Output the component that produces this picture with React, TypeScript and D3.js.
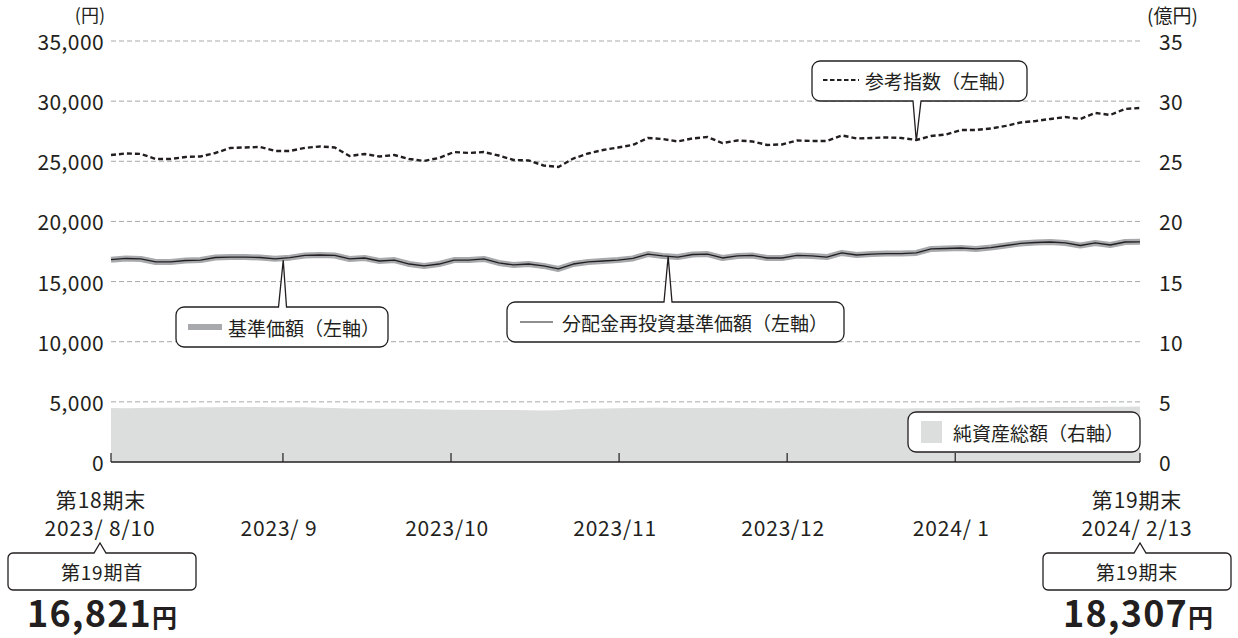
import React from "react";
import * as d3 from "d3";

// reference index, NAV, reinvested NAV (円) and net assets (億円)
const indexValues = [
  25520, 25650, 25610, 25190, 25190, 25360, 25400, 25690, 26110, 26150,
  26190, 25860, 25860, 26110, 26230, 26150, 25440, 25610, 25400, 25520,
  25190, 25030, 25280, 25770, 25690, 25770, 25480, 25110, 25070, 24650,
  24530, 25230, 25650, 25940, 26150, 26360, 26940, 26850, 26650, 26900,
  27020, 26520, 26730, 26650, 26360, 26400, 26730, 26690, 26690, 27150,
  26900, 26940, 26980, 26940, 26770, 27100, 27230, 27600, 27600, 27730,
  27940, 28230, 28350, 28520, 28680, 28520, 29020, 28850, 29350, 29430,
];
const navValues = [
  16821, 16920, 16880, 16630, 16630, 16750, 16790, 17000, 17040, 17040,
  17000, 16890, 16990, 17170, 17210, 17170, 16880, 16960, 16710, 16790,
  16460, 16300, 16460, 16790, 16790, 16880, 16550, 16380, 16460, 16300,
  16050, 16460, 16630, 16710, 16790, 16920, 17290, 17130, 17040, 17250,
  17290, 16960, 17130, 17170, 16960, 16960, 17170, 17130, 17040, 17380,
  17210, 17290, 17330, 17330, 17380, 17710, 17750, 17790, 17710, 17830,
  18000, 18170, 18250, 18290, 18210, 18000, 18210, 18040, 18290, 18307,
];
const reinvestedValues = [
  16821, 16920, 16880, 16630, 16630, 16750, 16790, 17000, 17040, 17040,
  17000, 16890, 16990, 17170, 17210, 17170, 16880, 16960, 16710, 16790,
  16460, 16300, 16460, 16790, 16790, 16880, 16550, 16380, 16460, 16300,
  16050, 16460, 16630, 16710, 16790, 16920, 17290, 17130, 17040, 17250,
  17290, 16960, 17130, 17170, 16960, 16960, 17170, 17130, 17040, 17380,
  17210, 17290, 17330, 17330, 17380, 17710, 17750, 17790, 17710, 17830,
  18000, 18170, 18250, 18290, 18210, 18000, 18210, 18040, 18290, 18307,
];
const netAssets = [
  4.48, 4.47, 4.49, 4.5, 4.5, 4.52, 4.55, 4.56, 4.57, 4.58,
  4.57, 4.56, 4.56, 4.55, 4.52, 4.48, 4.45, 4.43, 4.42, 4.42,
  4.4, 4.38, 4.36, 4.35, 4.34, 4.33, 4.33, 4.32, 4.3, 4.28,
  4.3, 4.38, 4.42, 4.45, 4.47, 4.49, 4.5, 4.5, 4.49, 4.48,
  4.49, 4.5, 4.49, 4.48, 4.47, 4.47, 4.48, 4.48, 4.46, 4.45,
  4.45, 4.46, 4.46, 4.45, 4.46, 4.47, 4.47, 4.48, 4.5, 4.52,
  4.53, 4.55, 4.56, 4.57, 4.58, 4.57, 4.58, 4.6, 4.6, 4.61,
];

const leftTicks = [0, 5000, 10000, 15000, 20000, 25000, 30000, 35000];
const rightTicks = [0, 5, 10, 15, 20, 25, 30, 35];
// month boundaries, in sample-index units
const monthTicks = [11.53, 22.8, 34.07, 45.34, 56.61];
const monthLabels = ["2023/ 9", "2023/10", "2023/11", "2023/12", "2024/ 1"];
const startLabels = ["第18期末", "2023/ 8/10", "第19期首"];
const endLabels = ["第19期末", "2024/ 2/13", "第19期末"];
const startPrice = "16,821";
const endPrice = "18,307";

const INK = "#231f20";
const FONT = "'Noto Sans CJK JP', 'Noto Sans', sans-serif";

// rounded box with a narrow pointer on its top or bottom edge
function calloutPath(x: number, y: number, w: number, h: number, r: number,
  px: number, half: number, tipX: number, tipY: number, side: string) {
  const p = d3.path();
  p.moveTo(x + r, y);
  if (side === "top") {
    p.lineTo(px - half, y);
    p.lineTo(tipX, tipY);
    p.lineTo(px + half, y);
  }
  p.lineTo(x + w - r, y);
  p.arcTo(x + w, y, x + w, y + r, r);
  p.lineTo(x + w, y + h - r);
  p.arcTo(x + w, y + h, x + w - r, y + h, r);
  if (side === "bottom") {
    p.lineTo(px + half, y + h);
    p.lineTo(tipX, tipY);
    p.lineTo(px - half, y + h);
  }
  p.lineTo(x + r, y + h);
  p.arcTo(x, y + h, x, y + h - r, r);
  p.lineTo(x, y + r);
  p.arcTo(x, y, x + r, y, r);
  p.closePath();
  return p.toString();
}

function valueAt(values: number[], pos: number) {
  const i = Math.floor(pos);
  const j = Math.min(values.length - 1, i + 1);
  return d3.interpolateNumber(values[i], values[j])(pos - i);
}

export default function App() {
  const W = 1238, H = 638;
  const n = navValues.length;
  const x = d3.scaleLinear().domain([0, n - 1]).range([111, 1140]);
  const yL = d3.scaleLinear().domain([0, 35000]).range([462, 41]);
  const yR = d3.scaleLinear().domain([0, 35]).range([462, 41]);
  const fmt = d3.format(",");

  const area = d3.area<number>().x((_, i) => x(i)).y0(yR(0)).y1((d) => yR(d));
  const line = d3.line<number>().x((_, i) => x(i)).y((d) => yL(d));

  const baseY = yL(0);
  const edgeTicks = [0, n - 1];

  // callout anchors on the lines
  const navPos = 11.55, reinvPos = 37.36, idxPos = 54;
  const navTip = [x(navPos), yL(valueAt(navValues, navPos)) + 2];
  const reinvTip = [x(reinvPos), yL(valueAt(reinvestedValues, reinvPos))];
  const idxTip = [x(idxPos), yL(indexValues[idxPos]) + 1];

  const sw = 1.3;
  const lbl = { fontSize: 21, letterSpacing: 0.8, dominantBaseline: "central" as const };

  return (
    <svg width={W} height={H} style={{ position: "absolute", left: 0, top: 0, background: "#fff" }}
      fontFamily={FONT} fill={INK}>
      {/* gridlines */}
      {leftTicks.filter((t) => t > 0).map((t) => (
        <line key={t} x1={x(0)} x2={x(n - 1)} y1={yL(t)} y2={yL(t)}
          stroke="#a7a9ac" strokeWidth={1} strokeDasharray="5 3" />
      ))}

      {/* net assets area */}
      <path d={area(netAssets) ?? ""} fill="#dcdddd" stroke="none" />

      {/* x axis */}
      <line x1={x(0)} x2={x(n - 1)} y1={baseY} y2={baseY} stroke={INK} strokeWidth={1.4} />
      {[...edgeTicks, ...monthTicks].map((t) => (
        <line key={t} x1={x(t)} x2={x(t)} y1={baseY} y2={baseY - 9} stroke={INK} strokeWidth={1.2} />
      ))}

      {/* left axis */}
      <text x={105} y={14} fontSize={18} textAnchor="end" dominantBaseline="central">(円)</text>
      {leftTicks.map((t) => (
        <text key={t} x={104} y={yL(t)} fontSize={21} letterSpacing={0.4} textAnchor="end" dominantBaseline="central">
          {fmt(t)}
        </text>
      ))}
      {/* right axis */}
      <text x={1147} y={14} fontSize={19} dominantBaseline="central">(億円)</text>
      {rightTicks.map((t) => (
        <text key={t} x={1159} y={yR(t)} fontSize={21} letterSpacing={0.4} dominantBaseline="central">{t}</text>
      ))}

      {/* NAV (thick gray) with reinvested NAV (thin black) on top */}
      <path d={line(navValues) ?? ""} fill="none" stroke="#a7a9ac" strokeWidth={6} strokeLinejoin="round" />
      <path d={line(reinvestedValues) ?? ""} fill="none" stroke={INK} strokeWidth={1.3} strokeLinejoin="round" />
      {/* reference index */}
      <path d={line(indexValues) ?? ""} fill="none" stroke={INK} strokeWidth={2.4} strokeDasharray="5 3" />

      {/* month labels */}
      {monthLabels.map((l, i) => (
        <text key={l} x={x(monthTicks[i]) - 4} y={527} textAnchor="middle" {...lbl}>{l}</text>
      ))}
      <text x={101} y={499} textAnchor="middle" {...lbl}>{startLabels[0]}</text>
      <text x={100} y={527} textAnchor="middle" {...lbl}>{startLabels[1]}</text>
      <text x={1137} y={499} textAnchor="middle" {...lbl}>{endLabels[0]}</text>
      <text x={1137} y={527} textAnchor="middle" {...lbl}>{endLabels[1]}</text>

      {/* period start / end boxes */}
      <path d={calloutPath(8, 553, 188, 37, 5, 100, 6, 100, 543, "top")} fill="#fff" stroke={INK} strokeWidth={sw} />
      <text x={102} y={571} textAnchor="middle" {...lbl} fontSize={19}>{startLabels[2]}</text>
      <path d={calloutPath(1043, 553, 188, 37, 5, 1140, 6, 1140, 543, "top")} fill="#fff" stroke={INK} strokeWidth={sw} />
      <text x={1137} y={571} textAnchor="middle" {...lbl} fontSize={19}>{endLabels[2]}</text>

      <text x={102} y={627} textAnchor="middle" fontWeight={700}>
        <tspan fontSize={36} letterSpacing={1.2}>{startPrice}</tspan><tspan fontSize={25}>円</tspan>
      </text>
      <text x={1138} y={627} textAnchor="middle" fontWeight={700}>
        <tspan fontSize={36} letterSpacing={1.2}>{endPrice}</tspan><tspan fontSize={25}>円</tspan>
      </text>

      {/* legend: NAV */}
      <path d={calloutPath(176, 307, 212, 40, 8, 282.5, 4, navTip[0], navTip[1], "top")} fill="#fff" stroke={INK} strokeWidth={sw} />
      <line x1={188} x2={222} y1={327} y2={327} stroke="#a7a9ac" strokeWidth={6} />
      <text x={228} y={327} fontSize={19} dominantBaseline="central">基準価額（左軸）</text>

      {/* legend: reinvested NAV */}
      <path d={calloutPath(507, 302, 337, 40, 8, 668, 4, reinvTip[0], reinvTip[1], "top")} fill="#fff" stroke={INK} strokeWidth={sw} />
      <line x1={520} x2={553} y1={322} y2={322} stroke={INK} strokeWidth={1.2} />
      <text x={562} y={322} fontSize={19} dominantBaseline="central">分配金再投資基準価額（左軸）</text>

      {/* legend: reference index */}
      <path d={calloutPath(812, 61, 215, 40, 8, 917, 4, idxTip[0], idxTip[1], "bottom")} fill="#fff" stroke={INK} strokeWidth={sw} />
      <line x1={823} x2={859} y1={80} y2={80} stroke={INK} strokeWidth={2} strokeDasharray="4.5 2.5" />
      <text x={865} y={80} fontSize={19} dominantBaseline="central">参考指数（左軸）</text>

      {/* legend: net assets */}
      <path d={calloutPath(908, 412, 232, 40, 8, 0, 0, 0, 0, "none")} fill="#fff" stroke={INK} strokeWidth={sw} />
      <rect x={921} y={421} width={21} height={22} fill="#dcdddd" />
      <text x={953} y={432} fontSize={19} dominantBaseline="central">純資産総額（右軸）</text>
    </svg>
  );
}
